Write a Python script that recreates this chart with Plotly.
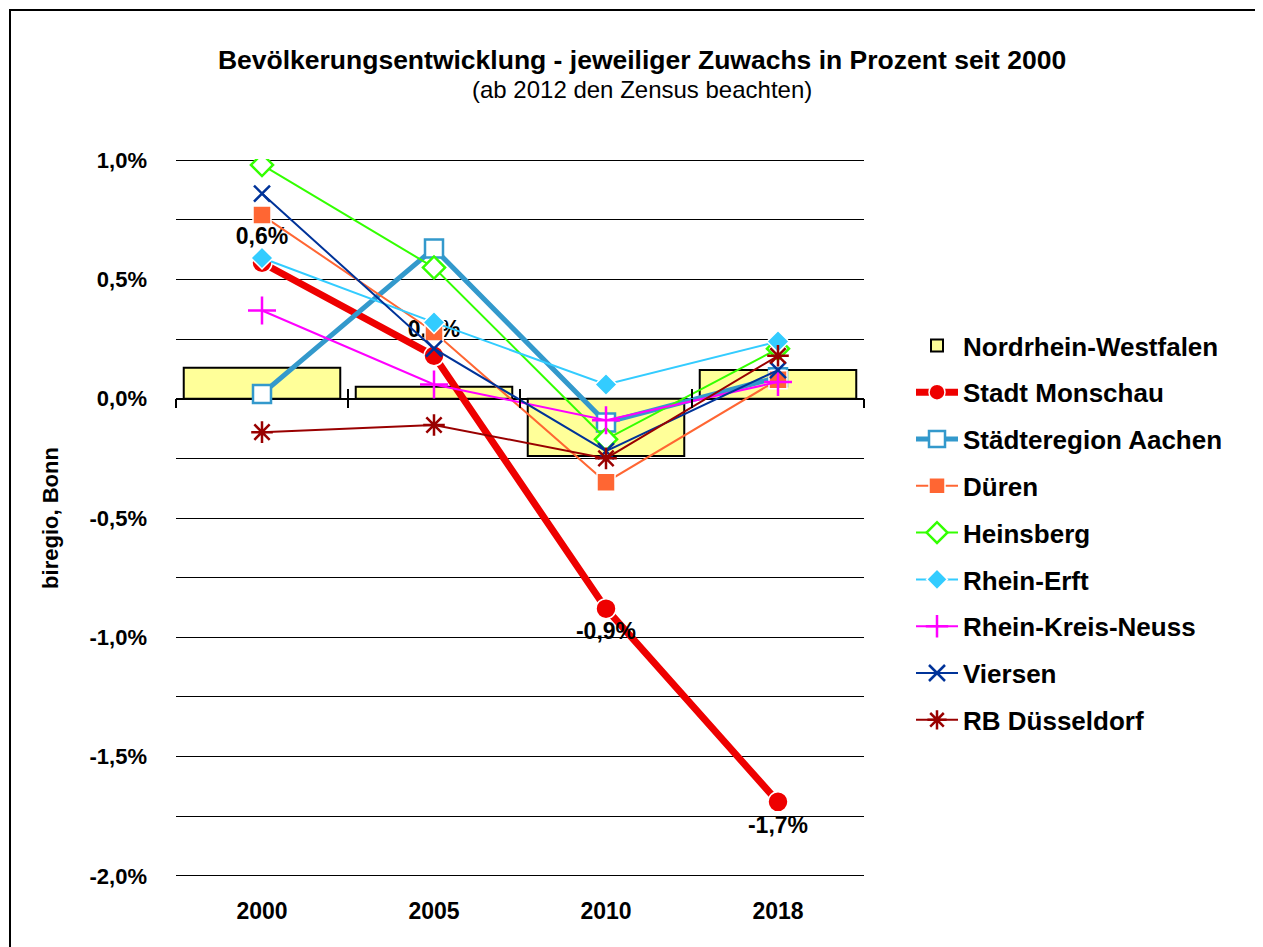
import plotly.graph_objects as go

# ---------------- data ----------------
years = ["2000", "2005", "2010", "2018"]

nrw = [0.13, 0.05, -0.24, 0.12]
monschau = [0.57, 0.18, -0.88, -1.69]
aachen = [0.02, 0.63, -0.10, 0.09]
dueren = [0.77, 0.28, -0.35, 0.08]
heinsberg = [0.98, 0.55, -0.17, 0.21]
rhein_erft = [0.59, 0.32, 0.06, 0.24]
neuss = [0.37, 0.06, -0.09, 0.07]
viersen = [0.86, 0.21, -0.22, 0.12]
rb_duesseldorf = [-0.14, -0.11, -0.25, 0.18]

monschau_labels = ["0,6%", "0,2%", "-0,9%", "-1,7%"]
monschau_label_pos = ["top center", "top center", "bottom center", "bottom center"]

y_tick_vals = [1.0, 0.75, 0.5, 0.25, 0.0, -0.25, -0.5, -0.75, -1.0, -1.25, -1.5, -1.75, -2.0]
y_tick_text = ["1,0%", "", "0,5%", "", "0,0%", "", "-0,5%", "", "-1,0%", "", "-1,5%", "", "-2,0%"]

FONT = "Liberation Sans, Arial, sans-serif"

fig = go.Figure()

fig.add_trace(go.Bar(
    x=years, y=nrw, name="Nordrhein-Westfalen",
    marker=dict(color="#FFFF99", line=dict(color="black", width=2)),
    legendgroup="g0",
))


def line_trace(name, y, color, symbol, size, lw, group, kind="filled", mlw=1.5):
    if kind == "filled":
        marker = dict(symbol=symbol, size=size, color=color, line=dict(color="white", width=mlw))
    elif kind == "hollow":
        marker = dict(symbol=symbol, size=size, color="white", line=dict(color=color, width=mlw))
    else:  # thin open symbols
        marker = dict(symbol=symbol, size=size, color=color, line=dict(color=color, width=mlw))
    return go.Scatter(
        x=years, y=y, name=name, mode="lines+markers",
        line=dict(color=color, width=lw), marker=marker, legendgroup=group,
    )


mon = line_trace("Stadt Monschau", monschau, "#EE0000", "circle", 20, 7, "g1")
mon.update(mode="lines+markers+text", text=monschau_labels, textposition=monschau_label_pos,
           textfont=dict(family=FONT, size=23, color="black", weight="bold"))
fig.add_trace(mon)
fig.add_trace(line_trace("Städteregion Aachen", aachen, "#3399CC", "square", 18, 5, "g2", "hollow", 2.5))
fig.add_trace(line_trace("Düren", dueren, "#FF6633", "square", 18, 2, "g3"))
fig.add_trace(line_trace("Heinsberg", heinsberg, "#33FF00", "diamond", 17, 2, "g4", "hollow", 2.5))
fig.add_trace(line_trace("Rhein-Erft", rhein_erft, "#33CCFF", "diamond", 17, 2, "g5"))
fig.add_trace(line_trace("Rhein-Kreis-Neuss", neuss, "#FF00FF", "cross-thin-open", 20, 2, "g6", "thin", 2.5))
fig.add_trace(line_trace("Viersen", viersen, "#003399", "x-thin-open", 16, 2, "g7", "thin", 2.5))
fig.add_trace(line_trace("RB Düsseldorf", rb_duesseldorf, "#990000", "asterisk-open", 18, 2, "g8", "thin", 2.5))

# invisible helper traces carrying the boundary tick marks on the zero line
fig.add_trace(go.Scatter(x=years, y=[None] * 4, xaxis="x2", showlegend=False, hoverinfo="skip"))
fig.add_trace(go.Scatter(x=years, y=[None] * 4, xaxis="x3", showlegend=False, hoverinfo="skip"))

# page is drawn with an 8px body margin
OFF = 8
W, H = 1255, 939
L, T = 176 - OFF, 159 - OFF
R = W - (864 - OFF)
B = H - (877 - OFF)
pw, ph = W - L - R, H - T - B

Y_MIN, Y_MAX = -2.005, 1.005


def px_x(px):
    return (px - OFF - L) / pw


def px_y(py):
    return (H - B - (py - OFF)) / ph


fig.update_layout(
    width=W, height=H,
    margin=dict(l=L, r=R, t=T, b=B),
    paper_bgcolor="white", plot_bgcolor="white",
    font=dict(family=FONT, color="black"),
    bargap=0.09,
    title=dict(
        text="<b>Bevölkerungsentwicklung - jeweiliger Zuwachs in Prozent seit 2000</b>",
        font=dict(family=FONT, size=26.5, color="black"),
        x=(642 - OFF) / W, xanchor="center", xref="container",
        y=1 - (60 - OFF) / H, yanchor="middle", yref="container",
    ),
    annotations=[dict(
        text="(ab 2012 den Zensus beachten)", showarrow=False,
        xref="paper", yref="paper", x=px_x(642), y=px_y(90),
        xanchor="center", yanchor="middle",
        font=dict(family=FONT, size=24, color="black"),
    )],
    xaxis=dict(
        type="category", showgrid=False, zeroline=False, showline=False,
        ticks="", ticklabelstandoff=18,
        tickfont=dict(family=FONT, size=23, color="black", weight="bold"),
    ),
    xaxis2=dict(
        type="category", overlaying="x", matches="x", anchor="free", position=px_y(398),
        showgrid=False, zeroline=False, showline=False, showticklabels=False,
        tickson="boundaries", ticks="outside", ticklen=9, tickwidth=1.5, tickcolor="black",
    ),
    xaxis3=dict(
        type="category", overlaying="x", matches="x", anchor="free", position=px_y(398),
        showgrid=False, zeroline=False, showline=False, showticklabels=False,
        tickson="boundaries", ticks="inside", ticklen=9, tickwidth=1.5, tickcolor="black",
    ),
    yaxis=dict(
        range=[Y_MIN, Y_MAX], tickmode="array", tickvals=y_tick_vals, ticktext=y_tick_text,
        showgrid=True, gridcolor="black", gridwidth=1.3,
        zeroline=True, zerolinecolor="black", zerolinewidth=1.5,
        showline=False, ticks="", ticklabelstandoff=28,
        tickfont=dict(family=FONT, size=22, color="black", weight="bold"),
        title=dict(text="biregio, Bonn", standoff=24,
                   font=dict(family=FONT, size=22, color="black", weight="bold")),
    ),
    legend=dict(
        x=px_x(911), y=px_y(322), xanchor="left", yanchor="top",
        font=dict(family=FONT, size=26, color="black", weight="bold"),
        tracegroupgap=10, itemwidth=42,
        bgcolor="rgba(0,0,0,0)",
    ),
    showlegend=True,
    shapes=[dict(
        type="rect", xref="paper", yref="paper",
        x0=px_x(10), x1=px_x(1290),
        y0=px_y(975), y1=px_y(10),
        line=dict(color="black", width=2), fillcolor="rgba(0,0,0,0)", layer="above",
    )],
)

fig.write_html("out.html")
